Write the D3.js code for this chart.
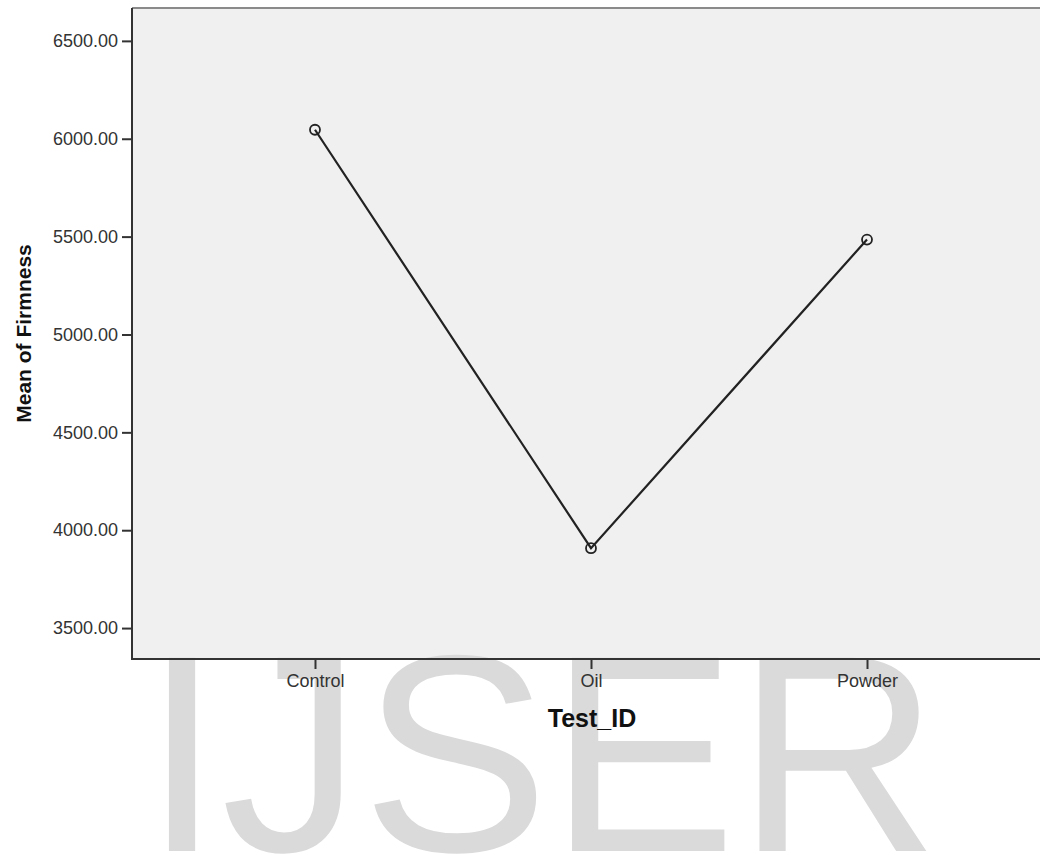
<!doctype html>
<html>
  <head>
    <meta charset="utf-8">
    <title>Mean of Firmness</title>
    <script type="text/javascript" src="https://d3js.org/d3.v7.min.js"></script>
    <style>
      body { margin: 0; background: #fff; }
    </style>
  </head>
  <body>
    <script>
      const categories = ['Control', 'Oil', 'Powder'];
      const means = [6046, 3908, 5485];
      const yTicks = [3500, 4000, 4500, 5000, 5500, 6000, 6500];

      const svgWidth = 1040;
      const svgHeight = 855;

      // plot area (runs off the right edge like the source image)
      const plot = { left: 132, top: 8, right: 1050, bottom: 659 };

      const svg = d3.select('body').append('svg')
          .attr('width', svgWidth)
          .attr('height', svgHeight)
          .style('font-family', '"Liberation Sans", Arial, sans-serif');

      const xScale = d3.scalePoint()
          .domain(categories)
          .range([plot.left, plot.right])
          .padding(0.663);

      const yScale = d3.scaleLinear()
          .domain([3342, 6668])
          .range([plot.bottom, plot.top]);

      // background
      svg.append('rect')
          .attr('x', plot.left)
          .attr('y', plot.top)
          .attr('width', plot.right - plot.left)
          .attr('height', plot.bottom - plot.top)
          .attr('fill', '#f0f0f0');

      // top border
      svg.append('line')
          .attr('x1', plot.left).attr('x2', plot.right)
          .attr('y1', plot.top).attr('y2', plot.top)
          .attr('stroke', '#8a8a8a')
          .attr('stroke-width', 2);

      // watermark
      svg.append('text')
          .attr('x', 143)
          .attr('y', 851)
          .attr('font-size', 281)
          .attr('fill', '#dadada')
          .text('IJSER');

      // y axis
      const yAxis = d3.axisLeft(yScale)
          .tickValues(yTicks)
          .tickSize(10)
          .tickPadding(4)
          .tickFormat(d3.format('.2f'));
      const gy = svg.append('g')
          .attr('transform', `translate(${plot.left}, 0)`)
          .call(yAxis);
      gy.select('.domain').remove();
      gy.append('line')
          .attr('y1', plot.top).attr('y2', plot.bottom + 1)
          .attr('stroke', '#333').attr('stroke-width', 2);

      // x axis
      const xAxis = d3.axisBottom(xScale)
          .tickSize(10)
          .tickPadding(5);
      const gx = svg.append('g')
          .attr('transform', `translate(0, ${plot.bottom})`)
          .call(xAxis);
      gx.select('.domain').remove();
      gx.append('line')
          .attr('x1', plot.left - 1).attr('x2', plot.right)
          .attr('stroke', '#333').attr('stroke-width', 2);

      svg.selectAll('.tick line').attr('stroke', '#333').attr('stroke-width', 2);
      svg.selectAll('.tick text')
          .attr('fill', '#333')
          .attr('font-size', 18)
          .attr('font-family', '"Liberation Sans", Arial, sans-serif');

      // axis titles
      svg.append('text')
          .attr('transform', `translate(31, ${(plot.top + plot.bottom) / 2}) rotate(-90)`)
          .attr('text-anchor', 'middle')
          .attr('font-size', 21)
          .attr('font-weight', 'bold')
          .attr('fill', '#111')
          .text('Mean of Firmness');

      svg.append('text')
          .attr('x', 592)
          .attr('y', 727)
          .attr('text-anchor', 'middle')
          .attr('font-size', 25)
          .attr('font-weight', 'bold')
          .attr('fill', '#111')
          .text('Test_ID');

      // line and markers
      const points = categories.map((c, i) => [c, means[i]]);
      const line = d3.line()
          .x(d => xScale(d[0]))
          .y(d => yScale(d[1]));

      svg.append('path')
          .attr('d', line(points))
          .attr('fill', 'none')
          .attr('stroke', '#222')
          .attr('stroke-width', 2.2);

      svg.selectAll('circle.pt')
        .data(points)
        .enter().append('circle')
          .attr('class', 'pt')
          .attr('cx', d => xScale(d[0]))
          .attr('cy', d => yScale(d[1]))
          .attr('r', 5)
          .attr('fill', 'none')
          .attr('stroke', '#222')
          .attr('stroke-width', 1.8);
    </script>
  </body>
</html>
